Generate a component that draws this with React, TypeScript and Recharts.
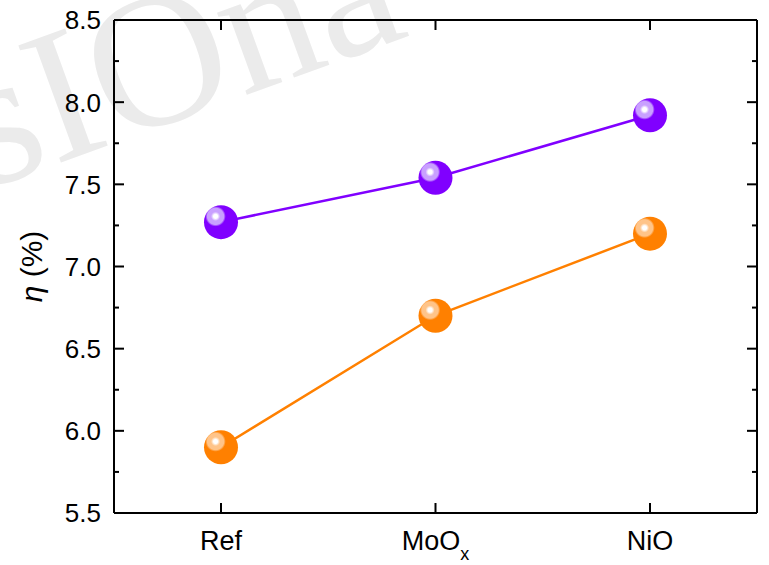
import React from "react";
import { LineChart, Line, XAxis, YAxis } from "recharts";

const categories = ["Ref", "MoOx", "NiO"];
const purpleValues = [7.27, 7.54, 7.92];
const orangeValues = [5.9, 6.7, 7.2];
const yTicks = [5.5, 5.75, 6.0, 6.25, 6.5, 6.75, 7.0, 7.25, 7.5, 7.75, 8.0, 8.25, 8.5];
const yMajor = [5.5, 6.0, 6.5, 7.0, 7.5, 8.0, 8.5];

const data = categories.map((name, i) => ({
  name,
  purple: purpleValues[i],
  orange: orangeValues[i],
}));

const FONT = "'Liberation Sans', Arial, sans-serif";
const PURPLE = "#8000ff";
const ORANGE = "#ff8000";

const isMajor = (v: number) => yMajor.some((m) => Math.abs(m - v) < 1e-6);

// y ticks point inward; only the half-units get a label
const LeftTick = (props: any) => {
  const { x, y, payload } = props;
  const px = Number(x);
  const py = Number(y);
  const major = isMajor(payload.value);
  return (
    <g>
      <rect x={px} y={py - 1} width={major ? 10 : 5} height={2} fill="#000" />
      {major && (
        <text x={px - 13} y={py} dy="0.36em" textAnchor="end" fontSize={26} fontFamily={FONT} fill="#000">
          {payload.value.toFixed(1)}
        </text>
      )}
    </g>
  );
};

const RightTick = (props: any) => {
  const { x, y, payload } = props;
  const px = Number(x);
  const py = Number(y);
  const w = isMajor(payload.value) ? 10 : 5;
  return <rect x={px - w} y={py - 1} width={w} height={2} fill="#000" />;
};

const BottomTick = (props: any) => {
  const { x, y, payload } = props;
  const px = Number(x);
  const py = Number(y);
  const label = payload.value as string;
  return (
    <g>
      <rect x={px - 1} y={py - 10} width={2} height={10} fill="#000" />
      <text x={px} y={py + 37} textAnchor="middle" fontSize={27} fontFamily={FONT} fill="#000">
        {label === "MoOx" ? (
          <>
            MoO
            <tspan fontSize={18} dy={10}>x</tspan>
          </>
        ) : (
          label
        )}
      </text>
    </g>
  );
};

const TopTick = (props: any) => {
  const { x, y } = props;
  return <rect x={Number(x) - 1} y={Number(y)} width={2} height={10} fill="#000" />;
};

const makeDot = (key: string, color: string, light: string) => (props: any) => {
  const { cx, cy, index } = props;
  const id = `grad-${key}-${index}`;
  return (
    <g key={id}>
      <defs>
        <radialGradient id={id} cx="0.34" cy="0.33" r="0.3" fx="0.34" fy="0.33">
          <stop offset="0" stopColor="#ffffff" />
          <stop offset="0.2" stopColor="#ffffff" />
          <stop offset="0.45" stopColor={light} />
          <stop offset="0.8" stopColor={light} />
          <stop offset="1" stopColor={color} />
        </radialGradient>
      </defs>
      <circle cx={cx} cy={cy} r={17} fill={`url(#${id})`} />
    </g>
  );
};

const YLabel = (props: any) => {
  const { viewBox } = props;
  const cy = viewBox.y + viewBox.height / 2;
  return (
    <text
      x={31}
      y={cy}
      transform={`rotate(-90 31 ${cy})`}
      textAnchor="middle"
      dy="0.36em"
      fontSize={30}
      fontFamily={FONT}
      fill="#000"
    >
      <tspan fontStyle="italic">η</tspan>
      <tspan> (%)</tspan>
    </text>
  );
};

export default function App() {
  return (
    <div style={{ position: "absolute", left: 0, top: 0, width: 769, height: 565, background: "#fff" }}>
      <svg width={769} height={565} style={{ position: "absolute", left: 0, top: 0 }}>
        <text
          x={-15}
          y={190}
          transform="rotate(-20 -15 190)"
          fontSize={190}
          fontFamily="'Liberation Serif', serif"
          fill="#ebebeb"
        >
          sIOna
        </text>
      </svg>
      <div style={{ position: "absolute", left: 0, top: 0 }}>
        <LineChart width={769} height={565} data={data} margin={{ top: 19, right: 11, left: 0, bottom: 0 }}>
          <XAxis
            dataKey="name"
            height={52}
            padding={{ left: 107, right: 107 }}
            axisLine={{ stroke: "#000", strokeWidth: 2 }}
            tickLine={false}
            tickSize={0}
            tickMargin={0}
            tick={<BottomTick />}
            interval={0}
          />
          <XAxis
            xAxisId="top"
            orientation="top"
            dataKey="name"
            height={1}
            padding={{ left: 107, right: 107 }}
            axisLine={{ stroke: "#000", strokeWidth: 2 }}
            tickLine={false}
            tickSize={0}
            tickMargin={0}
            tick={<TopTick />}
            interval={0}
          />
          <YAxis
            width={114}
            domain={[5.5, 8.5]}
            ticks={yTicks}
            interval={0}
            allowDataOverflow
            axisLine={{ stroke: "#000", strokeWidth: 2 }}
            tickLine={false}
            tickSize={0}
            tickMargin={0}
            tick={<LeftTick />}
            label={<YLabel />}
          />
          <YAxis
            yAxisId="right"
            orientation="right"
            width={1}
            domain={[5.5, 8.5]}
            ticks={yTicks}
            interval={0}
            allowDataOverflow
            axisLine={{ stroke: "#000", strokeWidth: 2 }}
            tickLine={false}
            tickSize={0}
            tickMargin={0}
            tick={<RightTick />}
          />
          <Line
            dataKey="purple"
            type="linear"
            stroke={PURPLE}
            strokeWidth={2.5}
            dot={makeDot("p", PURPLE, "#c9a0ff")}
            activeDot={false}
            isAnimationActive={false}
          />
          <Line
            dataKey="orange"
            type="linear"
            stroke={ORANGE}
            strokeWidth={2.5}
            dot={makeDot("o", ORANGE, "#ffc489")}
            activeDot={false}
            isAnimationActive={false}
          />
        </LineChart>
      </div>
    </div>
  );
}
